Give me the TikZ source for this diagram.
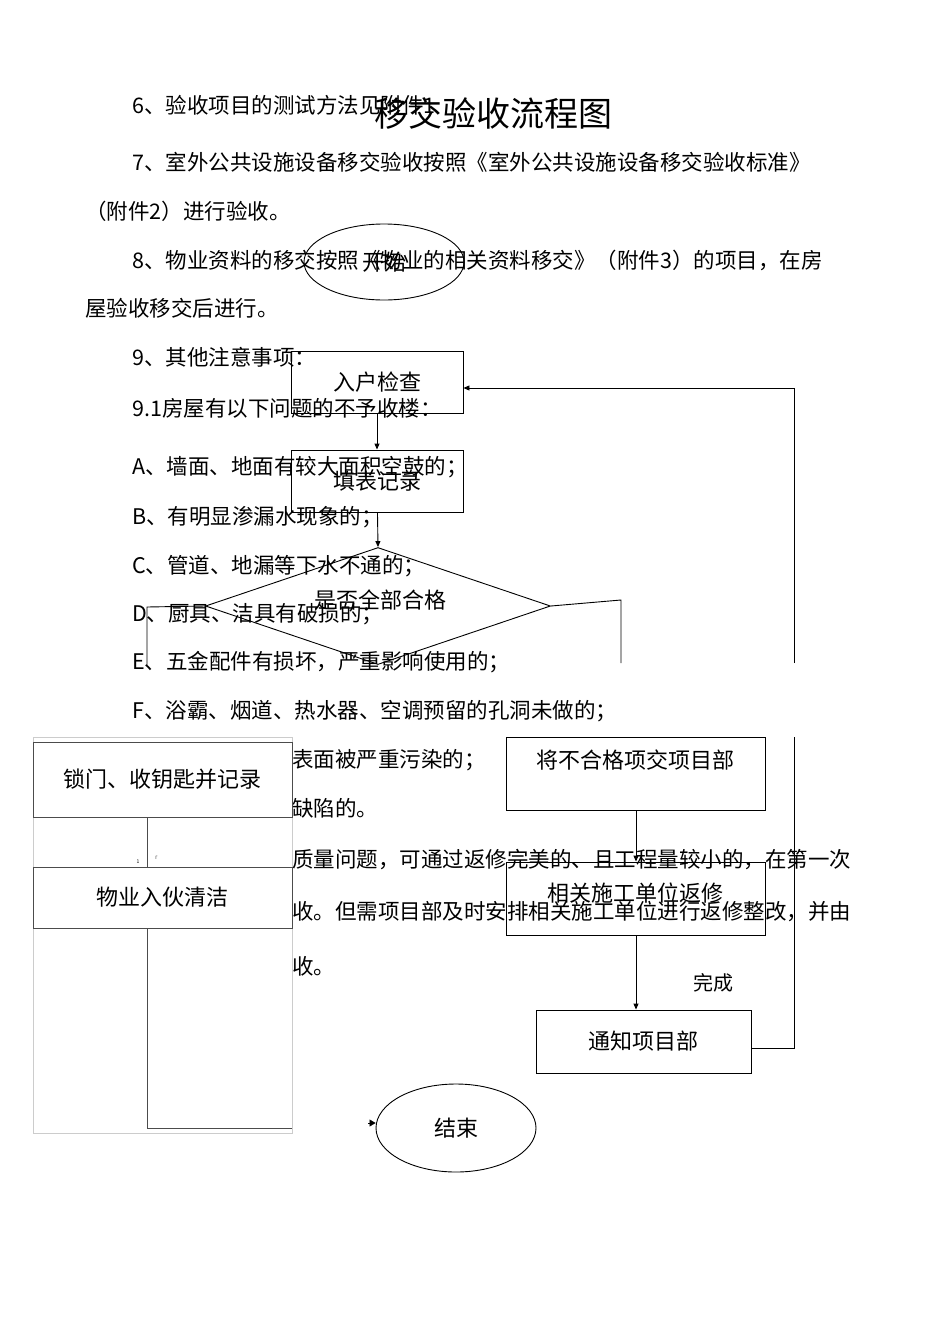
\documentclass[tikz,border=0pt]{standalone}
\usepackage{fontspec}
\setmainfont{Noto Sans CJK SC}
\usetikzlibrary{shapes.geometric,arrows.meta}
\begin{document}
\begin{tikzpicture}[x=1pt,y=-1pt,
  body/.style={anchor=west,inner sep=0,font=\fontsize{21.5}{22}\selectfont},
  fbox/.style={draw,line width=0.9pt,font=\fontsize{22}{24}\selectfont},
  arr/.style={-{Triangle[length=6pt,width=5pt]},line width=0.9pt},
  ln/.style={line width=0.9pt}]
\useasboundingbox[fill=white] (0,0) rectangle (950,1344);
% body text
\node[body] (t1) at (132,105) {6、验收项目的测试方法见附件1};
\node[body] (t2) at (132,162) {7、室外公共设施设备移交验收按照《室外公共设施设备移交验收标准》};
\node[body] (t3) at (85,211) {（附件2）进行验收。};
\node[body] (t4) at (132,260) {8、物业资料的移交按照《物业的相关资料移交》（附件3）的项目，在房};
\node[body] (t5) at (85,308) {屋验收移交后进行。};
\node[body] (t6) at (132,357) {9、其他注意事项：};
\node[body] (t7) at (132,408) {9.1房屋有以下问题的不予收楼：};
\node[body] (t8) at (132,467) {A、墙面、地面有较大面积空鼓的；};
\node[body] (t9) at (132,517) {B、有明显渗漏水现象的；};
\node[body] (t10) at (132,566) {C、管道、地漏等下水不通的；};
\node[body] (t11) at (132,614) {D、厨具、洁具有破损的；};
\node[body] (t12) at (132,662) {E、五金配件有损坏，严重影响使用的；};
\node[body] (t13) at (132,711) {F、浴霸、烟道、热水器、空调预留的孔洞未做的；};
\node[body] (t14) at (292,760) {表面被严重污染的；};
\node[body] (t15) at (292,808) {缺陷的。};
\node[body] (t16) at (292,860) {质量问题，可通过返修完美的、且工程量较小的，在第一次};
\node[body] (t17) at (292,912) {收。但需项目部及时安排相关施工单位进行返修整改，并由};
\node[body] (t18) at (292,966) {收。};
% title
\node[font=\fontsize{34}{36}\selectfont,inner sep=0] (title) at (493,113) {移交验收流程图};
% flowchart
\node[ellipse,draw,line width=0.9pt,minimum width=160,minimum height=76,inner sep=0,font=\fontsize{22}{24}\selectfont] (start) at (384,262) {开始};
\node[fbox,minimum width=172,minimum height=62] (check) at (377,382) {入户检查};
\node[fbox,minimum width=172,minimum height=62] (fill) at (377,481) {填表记录};
\node[diamond,draw,line width=0.9pt,minimum width=345,minimum height=117,aspect=2.9,inner sep=0] (dec) at (378,606) {};
\node[font=\fontsize{22}{24}\selectfont,inner sep=0] (dect) at (380,600) {是否全部合格};
\draw[arr] (check) -- (fill);
\draw[arr] (fill) -- (dec.north);
\coordinate (dl) at (147,607);
\draw[ln] (dec.west) -- (dl) -- (147,665);
\coordinate (dr1) at (621,600);
\draw[ln] (dec.east) -- (dr1) -- (621,663);
% loop back
\coordinate (lp1) at (794,388);
\draw[ln] (794,663) -- (lp1);
\draw[arr] (lp1) -- (check.east |- lp1);
% left panel
\draw[gray!40,fill=white] (33,737) rectangle (292,1133);
\node[fbox,fill=white,minimum width=259,minimum height=75,draw=black!70,line width=0.6pt] (lock) at (162.5,779.5) {锁门、收钥匙并记录};
\node[fbox,fill=white,minimum width=259,minimum height=61,draw=black!70,line width=0.6pt] (clean) at (162.5,897.5) {物业入伙清洁};
\draw[black!70] (147,817) -- (147,867);
\draw[black!70] (clean.south -| 147,0) -- (147,1128) -- (292,1128);
\node[font=\tiny,inner sep=0] (n1) at (138,862) {1};
\node[font=\tiny,inner sep=0] (n2) at (155,858) {「};
% right column
\node[fbox,minimum width=259,minimum height=73,text depth=28pt] (bad) at (635.5,773.5) {将不合格项交项目部};
\node[fbox,minimum width=259,minimum height=73,text depth=12pt] (repair) at (635.5,898.5) {相关施工单位返修};
\node[fbox,minimum width=215,minimum height=63] (notify) at (643.5,1041.5) {通知项目部};
\draw[arr] (bad.south -| 636,0) -- (repair.north -| 636,0);
\draw[arr] (repair.south -| 636,0) -- (notify.north -| 636,0);
\node[font=\fontsize{20}{22}\selectfont,inner sep=0] (done) at (713,983) {完成};
\coordinate (nr) at (794,1048);
\draw[ln] (notify.east |- nr) -- (nr) -- (794,737);
% end
\node[ellipse,draw,line width=0.9pt,minimum width=160,minimum height=88,inner sep=0,font=\fontsize{22}{24}\selectfont] (end) at (456,1128) {结束};
\coordinate (ea) at (368,1123);
\draw[-{Triangle[length=6pt,width=7pt]}] (ea) -- (end.west |- ea);
\end{tikzpicture}
\end{document}
